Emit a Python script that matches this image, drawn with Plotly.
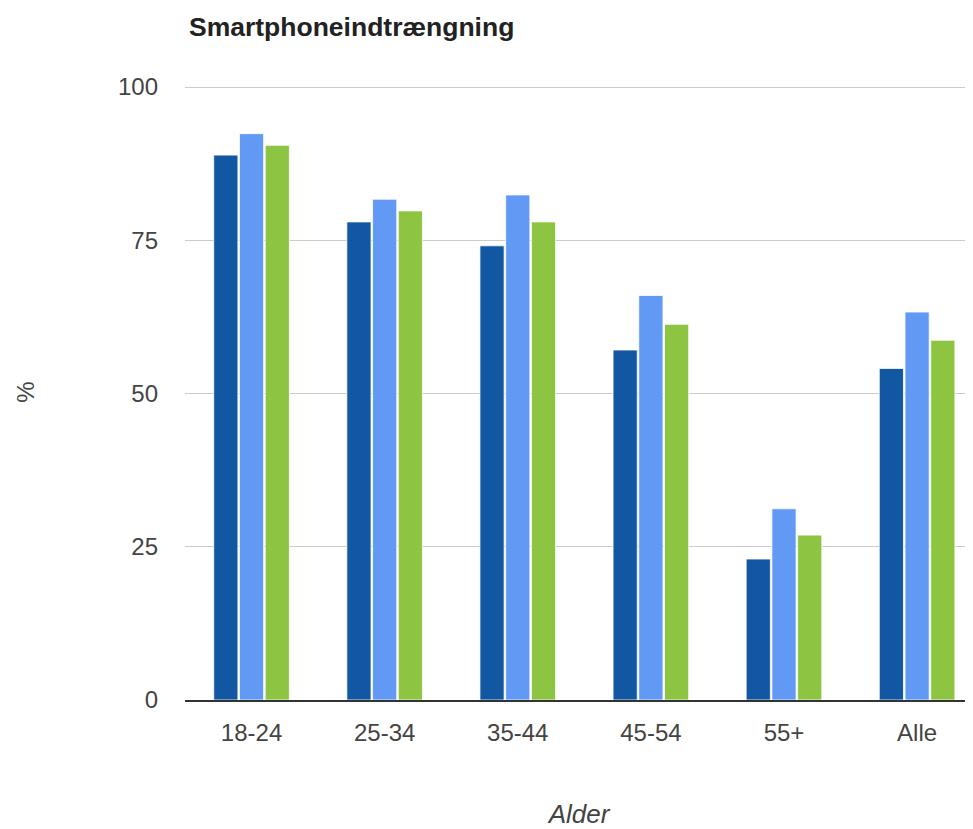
import plotly.graph_objects as go

# Smartphone penetration by age group (three series, no legend in original)
categories = ["18-24", "25-34", "35-44", "45-54", "55+", "Alle"]
series_a = [88.9, 78.0, 74.1, 57.1, 23.0, 54.1]
series_b = [92.4, 81.7, 82.4, 66.0, 31.2, 63.3]
series_c = [90.5, 79.8, 78.0, 61.3, 26.9, 58.7]
y_ticks = [0, 25, 50, 75, 100]

colors = ["#1157a1", "#6199f5", "#8dc543"]

fig = go.Figure()
for vals, col in zip([series_a, series_b, series_c], colors):
    fig.add_trace(go.Bar(
        x=categories, y=vals,
        marker=dict(color=col, line=dict(color="rgba(255,255,255,0.8)", width=1)),
        showlegend=False,
    ))

# page body has an 8px margin, so the figure is sized to fit the window
W, H = 965, 821
fig.update_layout(
    width=W, height=H,
    template="plotly_white",
    paper_bgcolor="white", plot_bgcolor="white",
    margin=dict(l=177, r=0, t=76, b=129),
    barmode="group", bargap=0.42, bargroupgap=0.06,
    font=dict(family="Liberation Sans, Arial", color="#444"),
    title=dict(
        text="<b>Smartphoneindtrængning</b>",
        x=181 / W, xref="container", xanchor="left",
        y=1 - 19 / H, yref="container", yanchor="middle",
        font=dict(size=26.5, color="#222"),
    ),
)

fig.update_xaxes(
    range=[-0.5, 5.42],
    showgrid=False,
    showline=True, linecolor="#333", linewidth=2,
    ticks="", ticklabelstandoff=10,
    tickfont=dict(size=24, color="#444"),
    title=dict(text="<i>Alder</i>", font=dict(size=26, color="#444"), standoff=62),
)
fig.update_yaxes(
    range=[0, 100.5], tickvals=y_ticks,
    showgrid=True, gridcolor="#cccccc", gridwidth=1,
    zeroline=False, showline=False,
    ticks="", ticklabelstandoff=26,
    tickfont=dict(size=24, color="#444"),
    title=dict(text="%", font=dict(size=24, color="#444"), standoff=76),
)

fig.write_html("out.html")
